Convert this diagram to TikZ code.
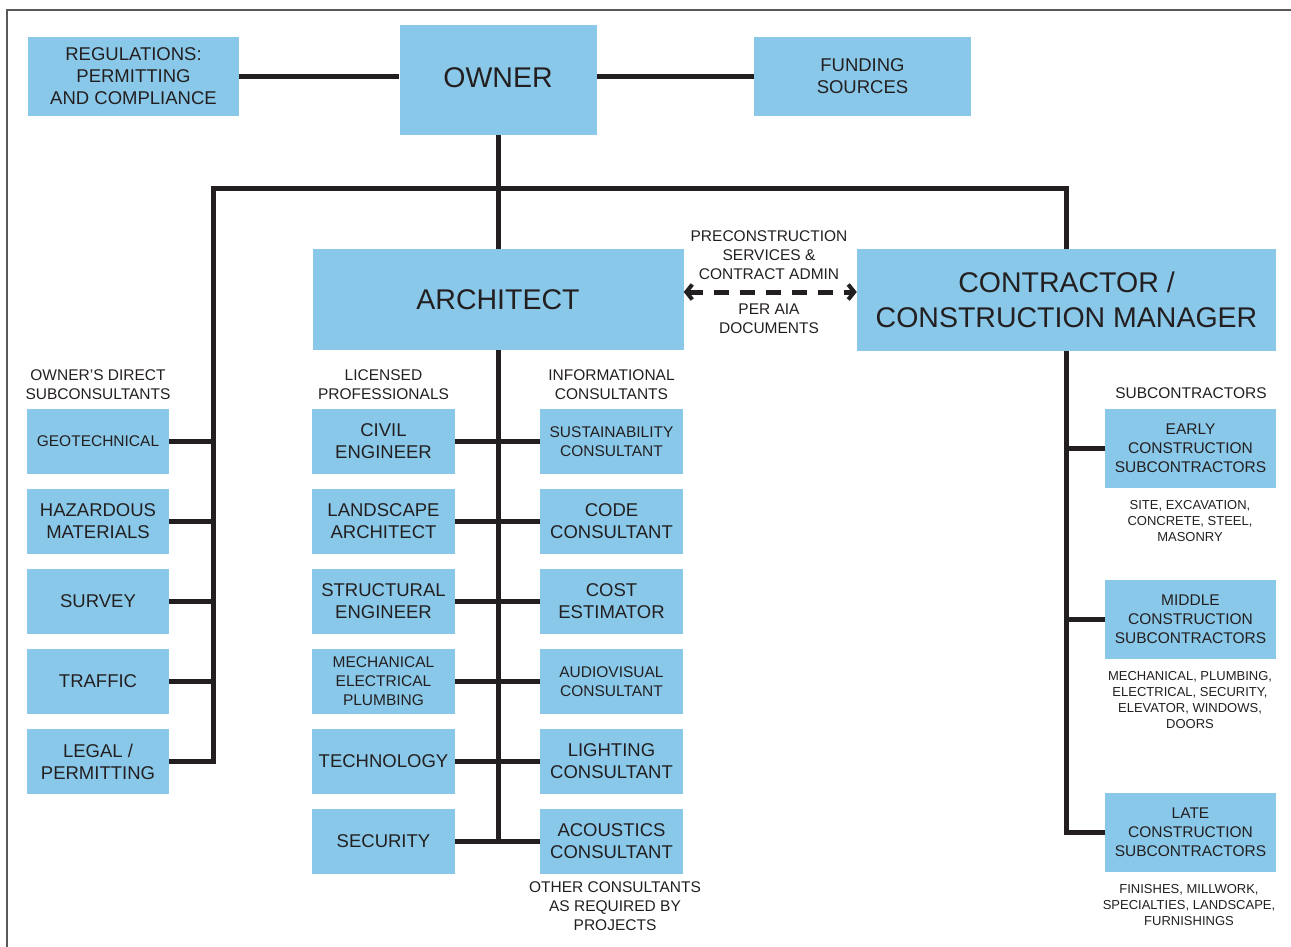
\documentclass[tikz,border=0pt]{standalone}
\usepackage{fontspec}
\setmainfont{Liberation Sans}
\usetikzlibrary{arrows.meta,positioning}
\definecolor{boxblue}{RGB}{137,200,233}
\definecolor{ink}{RGB}{35,31,32}
\newcommand{\bigfont}{\fontsize{28.5}{35}\selectfont}
\newcommand{\midfont}{\fontsize{18.5}{22}\selectfont}
\newcommand{\smlfont}{\fontsize{15.5}{19}\selectfont}
\newcommand{\notefont}{\fontsize{13}{16}\selectfont}

\begin{document}
\begin{tikzpicture}[x=1pt,y=-1pt,
  box/.style={fill=boxblue,inner sep=0pt,align=center,text=ink},
  lbl/.style={align=center,text=ink,inner sep=0pt,font=\smlfont},
  note/.style={align=center,text=ink,inner sep=0pt,font=\notefont},
  link/.style={draw=ink,line width=5pt},
  dashlink/.style={draw=ink,line width=5pt,dash pattern=on 15pt off 11pt,
    {Straight Barb[length=6pt,width=15pt,line width=4pt]}-{Straight Barb[length=6pt,width=15pt,line width=4pt]}}]
\useasboundingbox (0,0) rectangle (1291,947);
\draw[gray!70!black,line width=1.2pt] (7,947) -- (7,10) -- (1291,10);
% top row
\node[box,font=\bigfont,minimum width=197,minimum height=110,text depth=4pt] (owner) at (498,80) {OWNER};
\node[box,font=\midfont,minimum width=211,minimum height=79] (regs) at (133.5,76.5) {REGULATIONS:\\PERMITTING\\AND COMPLIANCE};
\node[box,font=\midfont,minimum width=217,minimum height=79] (fund) at (862.5,76.5) {FUNDING\\SOURCES};
\node[box,font=\bigfont,minimum width=371,minimum height=101] (arch) at (498,299.5) {ARCHITECT};
\node[box,font=\bigfont,minimum width=419,minimum height=102] (cm) at (1066.5,300) {CONTRACTOR /\\CONSTRUCTION MANAGER};
\draw[link] (regs.east) -- (regs.east -| owner.west);
\draw[link] (fund.west -| owner.east) -- (fund.west);
\draw[link] (owner.south) -- (arch.north);
\coordinate (lbus) at (213,189);
% dashed link
\draw[dashlink] ([yshift=7.5pt]arch.east) -- ([yshift=7.5pt]arch.east -| cm.west);
\node[lbl] (precon) at (769,255) {PRECONSTRUCTION\\SERVICES \&\\CONTRACT ADMIN};
\node[lbl] (peraia) at (769,318.5) {PER AIA\\DOCUMENTS};
% owner's subconsultants
\node[lbl] (odsub) at (98,384.5) {OWNER'S DIRECT\\SUBCONSULTANTS};
\foreach \nm/\t/\f [count=\i from 0] in {geo/GEOTECHNICAL/\smlfont,haz/{HAZARDOUS\\MATERIALS}/\midfont,srv/SURVEY/\midfont,trf/TRAFFIC/\midfont,lgl/{LEGAL /\\PERMITTING}/\midfont}
  \node[box,font=\f,minimum width=142,minimum height=65] (\nm) at (98,441.5+80*\i) {\t};
\draw[link] (lgl.east) -| (lbus) -| (cm.north);
\foreach \nm in {geo,haz,srv,trf} \draw[link] (\nm.east) -- (\nm.east -| lbus);
% architect's consultants
\node[lbl] (licp) at (383.5,384.5) {LICENSED\\PROFESSIONALS};
\node[lbl] (infc) at (611.5,384.5) {INFORMATIONAL\\CONSULTANTS};
\foreach \a/\ta/\fa/\b/\tb/\fb [count=\i from 0] in {
  civ/{CIVIL\\ENGINEER}/\midfont/sus/{SUSTAINABILITY\\CONSULTANT}/\smlfont,
  lar/{LANDSCAPE\\ARCHITECT}/\midfont/code/{CODE\\CONSULTANT}/\midfont,
  str/{STRUCTURAL\\ENGINEER}/\midfont/cost/{COST\\ESTIMATOR}/\midfont,
  mep/{MECHANICAL\\ELECTRICAL\\PLUMBING}/\smlfont/av/{AUDIOVISUAL\\CONSULTANT}/\smlfont,
  tech/TECHNOLOGY/\midfont/light/{LIGHTING\\CONSULTANT}/\midfont,
  sec/SECURITY/\midfont/acou/{ACOUSTICS\\CONSULTANT}/\midfont} {
  \node[box,font=\fa,minimum width=143,minimum height=65] (\a) at (383.5,441.5+80*\i) {\ta};
  \node[box,font=\fb,minimum width=143,minimum height=65] (\b) at (611.5,441.5+80*\i) {\tb};
  \draw[link] (\a.east) -- (\b.west);
}
\draw[link] (arch.south) -- (arch.south |- sec.east);
\node[lbl] (other) at (615,906.5) {OTHER CONSULTANTS\\AS REQUIRED BY\\PROJECTS};
% subcontractors
\node[lbl] (subc) at (1191,393) {SUBCONTRACTORS};
\node[box,font=\smlfont,minimum width=171,minimum height=79] (early) at (1190.5,448.5) {EARLY\\CONSTRUCTION\\SUBCONTRACTORS};
\node[box,font=\smlfont,minimum width=171,minimum height=79] (midc) at (1190.5,619.5) {MIDDLE\\CONSTRUCTION\\SUBCONTRACTORS};
\node[box,font=\smlfont,minimum width=171,minimum height=79] (late) at (1190.5,832.5) {LATE\\CONSTRUCTION\\SUBCONTRACTORS};
\draw[link] (cm.south) |- (late.west);
\draw[link] (early.west) -- (early.west -| cm.south);
\draw[link] (midc.west) -- (midc.west -| cm.south);
\node[note] (earlyn) at (1190,521) {SITE, EXCAVATION,\\CONCRETE, STEEL,\\MASONRY};
\node[note] (midn) at (1190,700) {MECHANICAL, PLUMBING,\\ELECTRICAL, SECURITY,\\ELEVATOR, WINDOWS,\\DOORS};
\node[note] (laten) at (1189,905) {FINISHES, MILLWORK,\\SPECIALTIES, LANDSCAPE,\\FURNISHINGS};
\end{tikzpicture}
\end{document}
